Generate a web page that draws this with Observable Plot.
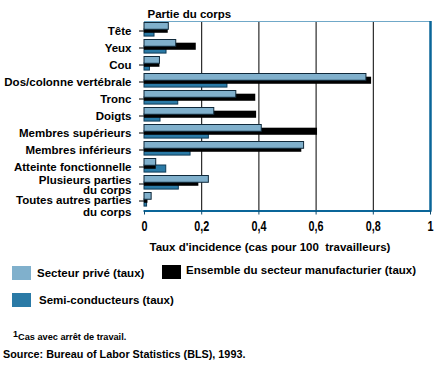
<!DOCTYPE html>
<html><head><meta charset="utf-8">
<script src="https://cdn.jsdelivr.net/npm/d3@7"></script>
<script src="https://cdn.jsdelivr.net/npm/@observablehq/plot@0.6"></script>
<style>
body{margin:0;background:#fff;font-family:"Liberation Sans",Arial,sans-serif;}
#wrap{position:relative;width:438px;height:365px;overflow:hidden;}
#chart{position:absolute;left:0;top:0;}
.leg{position:absolute;font-weight:bold;font-size:11.5px;white-space:nowrap;line-height:1;color:#000;}
.sw{position:absolute;width:19px;height:14px;}
</style></head><body><div id="wrap"><div id="chart"></div></div>
<script>
const categories = ["Tête","Yeux","Cou","Dos/colonne vertébrale","Tronc","Doigts","Membres supérieurs","Membres inférieurs","Atteinte fonctionnelle","Plusieurs parties\ndu corps","Toutes autres parties\ndu corps"];
const privateSector = [0.085,0.111,0.054,0.776,0.321,0.244,0.41,0.558,0.041,0.225,0.025];
const manufacturing = [0.083,0.181,0.054,0.794,0.389,0.392,0.605,0.55,0.041,0.19,0.012];
const semiconductors = [0.035,0.077,0.019,0.29,0.118,0.056,0.225,0.161,0.076,0.12,0.009];
const xTicks = [0,0.2,0.4,0.6,0.8,1];
const gridTicks = [0.2,0.4,0.6,0.8];
const seriesNames = ["Secteur privé (taux)","Ensemble du secteur manufacturier (taux)","Semi-conducteurs (taux)"];
const seriesColors = ["#80b0cc","#000000","#2a7aa6"];
const title = "Partie du corps";
const xLabel = "Taux d'incidence (cas pour 100\u00a0 travailleurs)";
const footnoteMark = "1";
const footnote = "Cas avec arrêt de travail.";
const source = "Source: Bureau of Labor Statistics (BLS), 1993.";

const rows = categories.map((c,i)=>({cat:c, p:privateSector[i], m:manufacturing[i], s:semiconductors[i]}));
const W = 438, H = 256, mT = 21, mB = 45.5, mL = 144, mR = 8;
const bw = (H - mT - mB) / categories.length;

const chart = Plot.plot({
  width: W, height: H,
  marginTop: mT, marginBottom: mB, marginLeft: mL, marginRight: mR,
  style: {fontFamily: "'Liberation Sans', Arial, sans-serif", fontWeight: "bold", fontSize: "11.5px", color: "#000", background: "#fff"},
  x: {domain: [0, 1]},
  y: {domain: categories, paddingInner: 0, paddingOuter: 0},
  marks: [
    Plot.ruleX(gridTicks, {stroke: "#000", strokeWidth: 1}),
    Plot.frame({anchor: "top", stroke: "#70a8c8", strokeWidth: 1}),
    Plot.barX(rows, {y: "cat", x: "s", fill: seriesColors[2], stroke: "#0e3b57", strokeWidth: 1, insetTop: 7, insetBottom: bw - 14.3}),
    Plot.barX(rows, {y: "cat", x: "m", fill: seriesColors[1], insetTop: 3.7, insetBottom: bw - 11}),
    Plot.barX(rows, {y: "cat", x: "p", fill: seriesColors[0], stroke: "#10293a", strokeWidth: 1, insetTop: 0.5, insetBottom: bw - 7.5}),
    Plot.ruleX([1], {stroke: "#0a6699", strokeWidth: 2.5}),
    Plot.frame({anchor: "bottom", stroke: "#0a6699", strokeWidth: 2}),
    Plot.axisY({tickSize: 5, tickFormat: () => "", label: null, stroke: "#000"}),
    Plot.axisY(categories.slice(0, 9), {tickSize: 0, tickPadding: 13, label: null}),
    Plot.axisY([categories[9]], {tickSize: 0, tickPadding: 13, label: null, lineHeight: 0.9, dy: 1.5}),
    Plot.axisY([categories[10]], {tickSize: 0, tickPadding: 13, label: null, lineHeight: 1.02, dy: 5}),
    Plot.axisX({ticks: xTicks, tickFormat: d => String(d).replace(".", ","), tickSize: 4, tickPadding: 5, label: null,
      fontSize: 15, fontWeight: "bold", stroke: "#0a4a70"}),
    Plot.text([title], {frameAnchor: "top-left", dx: 3, dy: -7, lineAnchor: "middle", textAnchor: "start"}),
    Plot.text([xLabel], {frameAnchor: "bottom-left", dx: 5, dy: 36, lineAnchor: "middle", textAnchor: "start"})
  ]
});
document.getElementById("chart").appendChild(chart);

// condensed look for the x tick labels (keep Plot's own position, just narrow the glyphs)
d3.select(chart).selectAll('g[aria-label="x-axis tick label"] text').each(function(){
  const t = this.getAttribute("transform") || "";
  this.setAttribute("transform", `${t} scale(0.72,1)`);
  this.style.fontSize = "15px";
  this.style.fontWeight = "bold";
});

const wrap = document.getElementById("wrap");
function add(cls, css, text){ const d=document.createElement("div"); d.className=cls; d.style.cssText=css; if(text!=null) d.textContent=text; wrap.appendChild(d); return d; }
add("sw", `left:12px;top:266px;background:${seriesColors[0]}`);
add("leg", "left:37px;top:268px;", seriesNames[0]);
add("sw", `left:162px;top:265px;background:${seriesColors[1]}`);
add("leg", "left:186px;top:265px;", seriesNames[1]);
add("sw", `left:12px;top:293px;background:${seriesColors[2]}`);
add("leg", "left:39px;top:294.5px;", seriesNames[2]);
add("leg", "left:13px;top:330px;font-size:9px;", footnoteMark);
add("leg", "left:18px;top:333px;font-size:9.2px;", footnote);
add("leg", "left:3px;top:349px;font-size:10.8px;", source);
</script></body></html>
